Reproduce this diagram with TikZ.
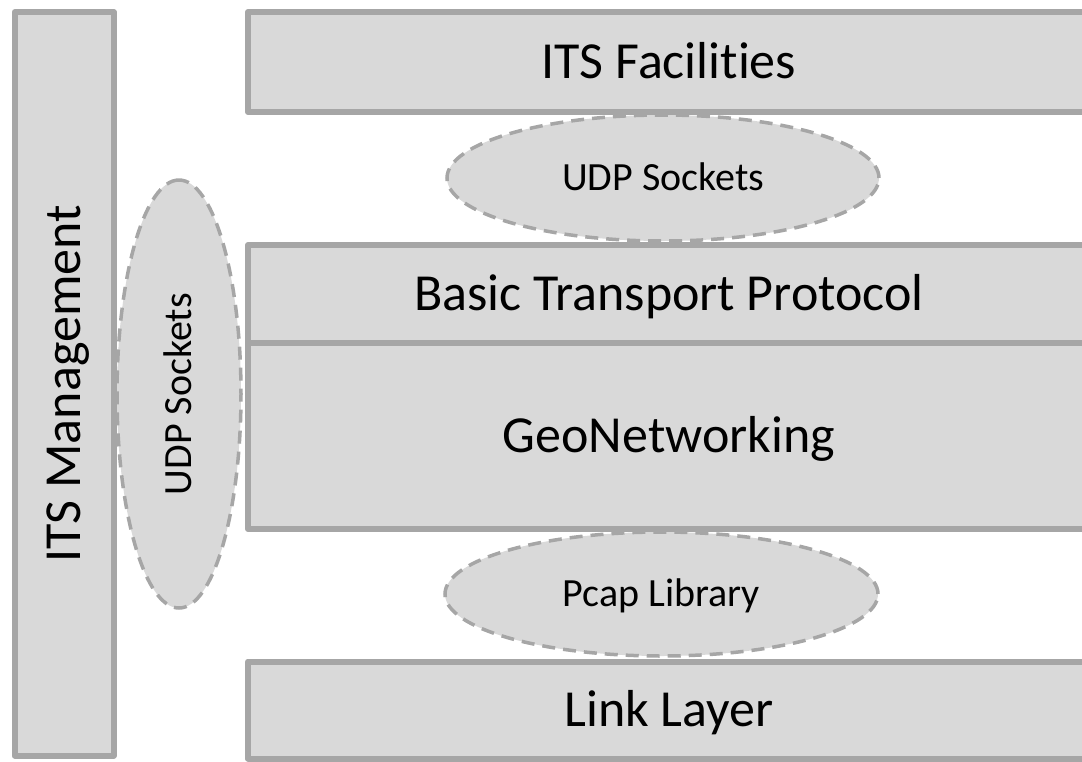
\documentclass[tikz,border=0pt]{standalone}
\usepackage{fontspec}
\setmainfont{Carlito}[Ligatures=NoCommon]
\usetikzlibrary{shapes.geometric}
\definecolor{layerfill}{HTML}{D9D9D9}
\definecolor{layerline}{HTML}{A6A6A6}
\begin{document}
\begin{tikzpicture}[x=1pt,y=-1pt,
    layer/.style={draw=layerline,fill=layerfill,line width=6pt,line join=round,
      inner sep=0pt,font=\fontsize{52}{60}\selectfont,text height=33pt,text depth=0pt},
    iface/.style={ellipse,draw=layerline,fill=layerfill,line width=3.5pt,
      dash pattern=on 13pt off 8pt,inner sep=0pt,
      font=\fontsize{40}{48}\selectfont,text height=25pt,text depth=0pt}]
  \useasboundingbox (0,0) rectangle (1082,761);
  \node[layer,rotate=90,minimum width=743.5pt,minimum height=99pt] (mgmt) at (64.2,383.8) {ITS Management};
  \node[layer,minimum width=842pt,minimum height=100pt] (fac) at (669,62) {ITS Facilities};
  \node[layer,minimum width=842pt,minimum height=98pt] (btp) at (669,294) {Basic Transport Protocol};
  \node[layer,minimum width=842pt,minimum height=186pt] (geo) at (669,436) {GeoNetworking};
  \node[layer,minimum width=842pt,minimum height=97pt] (link) at (669,710) {Link Layer};
  \node[iface,minimum width=432pt,minimum height=126pt] (udptop) at (663,178) {UDP Sockets};
  \node[iface,rotate=90,minimum width=428pt,minimum height=124pt] (udpside) at (179,394) {UDP Sockets};
  \node[iface,minimum width=433pt,minimum height=124pt] (pcap) at (661.5,594) {Pcap Library};
\end{tikzpicture}
\end{document}
